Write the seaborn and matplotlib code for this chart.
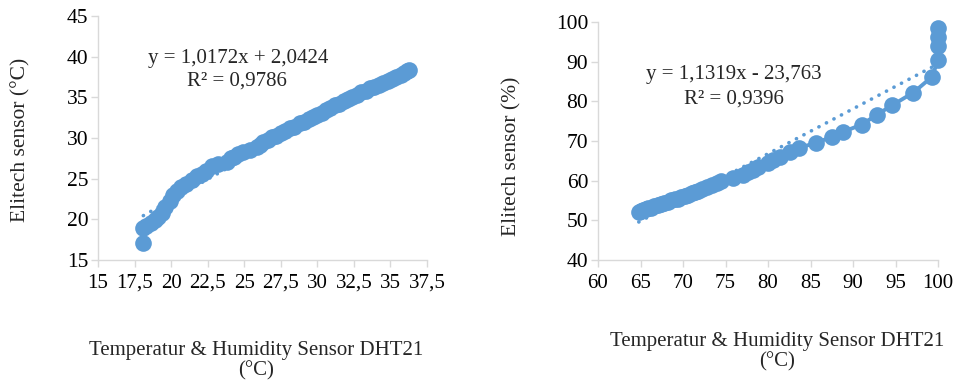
import numpy as np
import pandas as pd
import matplotlib
matplotlib.use("Agg")
import matplotlib.pyplot as plt
import seaborn as sns

# ---------------- data ----------------
temp_dht = [18.1, 18.1, 18.3, 18.6, 18.9, 19.1, 19.4, 19.6, 19.9, 20.1,
            20.4, 20.7, 21.0, 21.4, 21.8, 22.1, 22.4, 22.8, 23.2, 23.8,
            24.1, 24.3, 24.6, 24.9, 25.4, 25.9, 26.1, 26.3, 26.6, 26.9,
            27.2, 27.5, 27.8, 28.1, 28.4, 28.8, 29.1, 29.4, 29.7, 30.0,
            30.3, 30.6, 30.9, 31.2, 31.5, 31.8, 32.1, 32.4, 32.7, 33.0,
            33.3, 33.6, 33.9, 34.2, 34.5, 34.8, 35.1, 35.4, 35.7, 35.9,
            36.1, 36.3]
temp_elitech = [17.1, 18.9, 19.2, 19.5, 19.9, 20.3, 20.8, 21.5, 22.3, 23.0,
                23.5, 24.0, 24.3, 24.8, 25.3, 25.6, 26.0, 26.5, 26.8, 27.1,
                27.5, 27.7, 28.0, 28.3, 28.5, 28.9, 29.1, 29.5, 29.8, 30.1,
                30.3, 30.6, 30.9, 31.2, 31.4, 31.8, 32.0, 32.3, 32.6, 32.8,
                33.1, 33.4, 33.7, 34.0, 34.2, 34.5, 34.8, 35.0, 35.3, 35.6,
                35.8, 36.1, 36.3, 36.5, 36.8, 37.0, 37.3, 37.5, 37.8, 38.0,
                38.2, 38.4]

hum_dht = [64.8, 65.0, 65.3, 65.6, 65.9, 66.2, 66.6, 67.0, 67.4, 67.8,
           68.2, 68.6, 69.0, 69.4, 69.8, 70.2, 70.6, 71.0, 71.4, 71.8,
           72.2, 72.8, 73.4, 74.0, 74.5, 75.9, 77.0, 77.6, 78.2, 78.8,
           80.0, 80.6, 81.4, 82.6, 83.6, 85.7, 87.5, 88.8, 91.0, 92.8,
           94.6, 97.1, 99.3, 100, 100, 100, 100]
hum_elitech = [52.2, 52.4, 52.6, 52.8, 53.0, 53.2, 53.5, 53.8, 54.1, 54.4,
               54.7, 55.0, 55.3, 55.5, 55.8, 56.1, 56.4, 56.8, 57.1, 57.4,
               57.8, 58.3, 58.8, 59.3, 59.8, 60.7, 61.5, 62.1, 62.7, 63.4,
               64.5, 65.1, 65.9, 67.2, 68.2, 69.6, 71.0, 72.3, 74.1, 76.6,
               79.0, 82.2, 86.2, 90.4, 94.0, 96.3, 98.4]

temp_fit = [1.0172, 2.0424]      # slope, intercept
hum_fit = [1.1319, -23.763]

temp_eq = ["y = 1,0172x + 2,0424", "R² = 0,9786"]
hum_eq = ["y = 1,1319x - 23,763", "R² = 0,9396"]

temp_xticks = [15, 17.5, 20, 22.5, 25, 27.5, 30, 32.5, 35, 37.5]
temp_xlabels = ["15", "17,5", "20", "22,5", "25", "27,5", "30", "32,5", "35", "37,5"]
temp_yticks = [15, 20, 25, 30, 35, 40, 45]
hum_xticks = [60, 65, 70, 75, 80, 85, 90, 95, 100]
hum_yticks = [40, 50, 60, 70, 80, 90, 100]

xlabel_text = "Temperatur & Humidity Sensor DHT21\n(°C)"
ylabel_temp = "Elitech sensor (°C)"
ylabel_hum = "Elitech sensor (%)"

# ---------------- style ----------------
sns.set_theme(style="white")
plt.rcParams["font.family"] = ["Liberation Serif", "DejaVu Serif"]
BLUE = "#5B9BD5"
GRID = "#D9D9D9"

fig = plt.figure(figsize=(9.6, 3.86), dpi=100)
ax1 = fig.add_axes([98 / 960, 126 / 386, 329 / 960, 244 / 386])
ax2 = fig.add_axes([598 / 960, 126 / 386, 340 / 960, 238 / 386])


def draw(ax, xs, ys, fit, xlim, ylim, xticks, xlabels, yticks):
    df = pd.DataFrame({"x": xs, "y": ys})
    xr = np.array([min(xs), max(xs)])
    tdf = pd.DataFrame({"x": xr, "y": fit[0] * xr + fit[1]})
    sns.lineplot(data=tdf, x="x", y="y", ax=ax, color=BLUE, lw=2.6,
                 linestyle=(0, (0.05, 2.3)), dash_capstyle="round",
                 zorder=2, clip_on=False)
    sns.lineplot(data=df, x="x", y="y", ax=ax, sort=False, estimator=None,
                 color=BLUE, lw=2.8, marker="o", markersize=12,
                 markeredgewidth=0, zorder=3, clip_on=False)
    ax.set_xlim(*xlim)
    ax.set_ylim(*ylim)
    ax.set_xticks(xticks)
    ax.set_xticklabels(xlabels)
    ax.set_yticks(yticks)
    ax.set_xlabel("")
    ax.set_ylabel("")
    for s in ("top", "right"):
        ax.spines[s].set_visible(False)
    for s in ("left", "bottom"):
        ax.spines[s].set_color(GRID)
        ax.spines[s].set_linewidth(1.0)
    ax.tick_params(axis="both", which="major", direction="out", length=5,
                   width=1, color=GRID, labelsize=15.5, labelcolor="black",
                   left=True, bottom=True)
    ax.tick_params(axis="x", pad=5, labelsize=15)
    ax.tick_params(axis="y", pad=2)


draw(ax1, temp_dht, temp_elitech, temp_fit, (15, 37.5), (15, 45),
     temp_xticks, temp_xlabels, temp_yticks)
draw(ax2, hum_dht, hum_elitech, hum_fit, (60, 100), (40, 100),
     hum_xticks, [str(v) for v in hum_xticks], hum_yticks)

# equations (figure pixel positions from top-left)
def ftext(px, py, s, **kw):
    fig.text(px / 960, 1 - py / 386, s, ha="center", va="center", **kw)

ftext(238, 58, temp_eq[0], fontsize=15)
ftext(237, 81, temp_eq[1], fontsize=15)
ftext(734, 75, hum_eq[0], fontsize=15)
ftext(734, 99, hum_eq[1], fontsize=15)

# axis labels
ftext(256, 361, xlabel_text, fontsize=15, linespacing=1.05)
ftext(777, 352, xlabel_text, fontsize=15, linespacing=1.05)
ftext(21, 140, ylabel_temp, fontsize=15.5, rotation=90)
ftext(512, 156, ylabel_hum, fontsize=15.5, rotation=90)

fig.savefig("out.png", dpi=100, facecolor="white")
